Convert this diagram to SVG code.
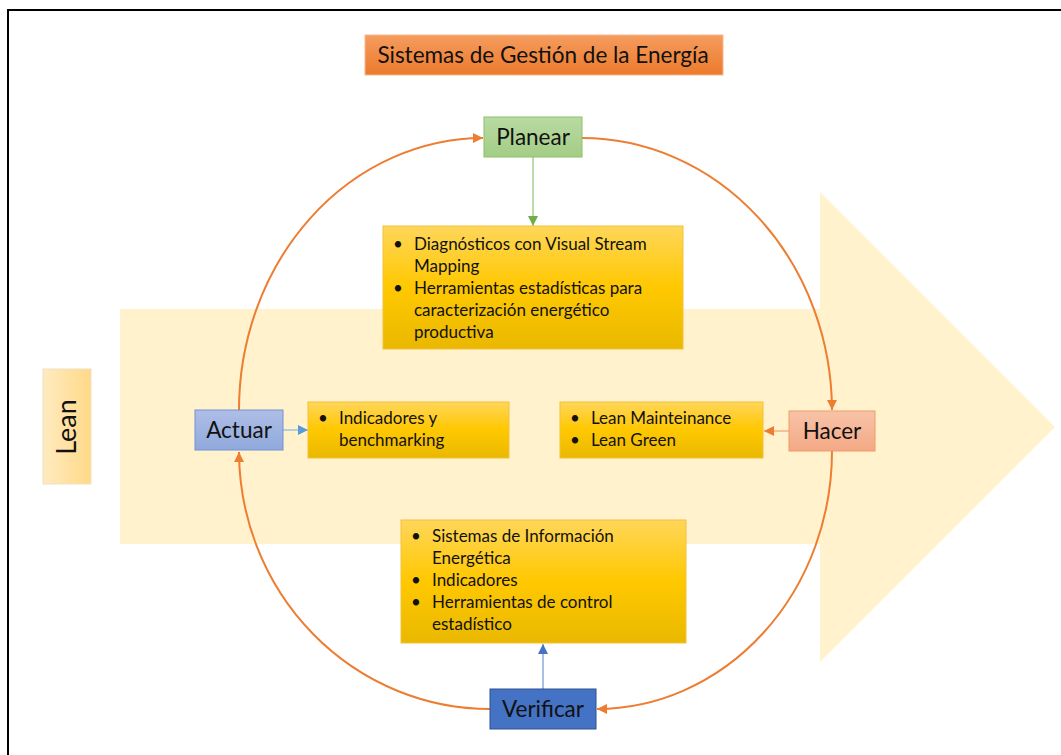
<svg xmlns="http://www.w3.org/2000/svg" width="1061" height="755" viewBox="0 0 1061 755">
  <style>
    text { font-family: Lato, "Open Sans", "Liberation Sans", sans-serif; fill: #111; }
    .lbl { font-size: 22.5px; text-anchor: middle; }
    .item { font-size: 17px; }
    .cycle { fill: none; stroke: #ED7D31; stroke-width: 2; marker-end: url(#arrOrange); }
    .box { stroke: #F3C13A; stroke-width: 1; fill: url(#gYellow); }
  </style>
  <defs>
    <linearGradient id="gYellow" x1="0" y1="0" x2="0" y2="1">
      <stop offset="0" stop-color="#FFD65A"/>
      <stop offset="0.5" stop-color="#FFC800"/>
      <stop offset="1" stop-color="#E9B800"/>
    </linearGradient>
    <linearGradient id="gTitle" x1="0" y1="0" x2="0" y2="1">
      <stop offset="0" stop-color="#F59C5E"/>
      <stop offset="1" stop-color="#EC7A2B"/>
    </linearGradient>
    <linearGradient id="gGreen" x1="0" y1="0" x2="0" y2="1">
      <stop offset="0" stop-color="#B9DAA2"/>
      <stop offset="1" stop-color="#A3CD86"/>
    </linearGradient>
    <linearGradient id="gLav" x1="0" y1="0" x2="0" y2="1">
      <stop offset="0" stop-color="#AEBEE6"/>
      <stop offset="1" stop-color="#90A9DC"/>
    </linearGradient>
    <linearGradient id="gSalmon" x1="0" y1="0" x2="0" y2="1">
      <stop offset="0" stop-color="#F8C3A8"/>
      <stop offset="1" stop-color="#F4A985"/>
    </linearGradient>
    <linearGradient id="gLean" x1="0" y1="0" x2="1" y2="0">
      <stop offset="0" stop-color="#FFEBC0"/>
      <stop offset="1" stop-color="#FFD987"/>
    </linearGradient>
    <marker id="arrOrange" viewBox="0 0 10 10" refX="10" refY="5" markerWidth="10" markerHeight="10" markerUnits="userSpaceOnUse" orient="auto">
      <path d="M0,0 L10,5 L0,10 z" fill="#ED7D31"/>
    </marker>
    <marker id="arrGreen" viewBox="0 0 10 10" refX="10" refY="5" markerWidth="10" markerHeight="10" markerUnits="userSpaceOnUse" orient="auto">
      <path d="M0,0 L10,5 L0,10 z" fill="#70AD47"/>
    </marker>
    <marker id="arrBlue" viewBox="0 0 10 10" refX="10" refY="5" markerWidth="10" markerHeight="10" markerUnits="userSpaceOnUse" orient="auto">
      <path d="M0,0 L10,5 L0,10 z" fill="#5B9BD5"/>
    </marker>
    <marker id="arrDkBlue" viewBox="0 0 10 10" refX="10" refY="5" markerWidth="10" markerHeight="10" markerUnits="userSpaceOnUse" orient="auto">
      <path d="M0,0 L10,5 L0,10 z" fill="#4472C4"/>
    </marker>
  </defs>

  <rect x="0" y="0" width="1061" height="755" fill="#FFFFFF"/>
  <!-- page frame -->
  <path d="M8,755 V10 H1061" fill="none" stroke="#000" stroke-width="2"/>

  <!-- large background arrow -->
  <path id="bigArrow" d="M120,309 H820 V192 L1055,427 L820,662 V544 H120 Z" fill="#FFF2CC"/>

  <g id="lean">
    <rect x="43" y="369" width="48" height="115" fill="url(#gLean)" stroke="#F0E0C0" stroke-width="1"/>
    <text transform="translate(76,427) rotate(-90)" font-size="27" text-anchor="middle">Lean</text>
  </g>

  <g id="title">
    <rect x="365" y="35" width="358" height="40" fill="url(#gTitle)" stroke="#F5B98E" stroke-width="1"/>
    <text x="543" y="63" class="lbl">Sistemas de Gestión de la Energía</text>
  </g>

  <!-- connectors -->
  <g id="connectors">
    <path class="cycle" d="M582,138 A250,273 0 0 1 832,410"/>
    <path class="cycle" d="M832,451 A236,258 0 0 1 597,709"/>
    <path class="cycle" d="M490,709 A251,258 0 0 1 239,452"/>
    <path class="cycle" d="M239,410 A245,272 0 0 1 483,138"/>
    <path d="M533,157 V226" stroke="#A9D18E" stroke-width="1.5" fill="none" marker-end="url(#arrGreen)"/>
    <path d="M283,430 H308" stroke="#9DC3E6" stroke-width="1.5" fill="none" marker-end="url(#arrBlue)"/>
    <path d="M789,431 H764" stroke="#F4B183" stroke-width="1.5" fill="none" marker-end="url(#arrOrange)"/>
    <path d="M543,689 V644" stroke="#8FAADC" stroke-width="1.5" fill="none" marker-end="url(#arrDkBlue)"/>
  </g>

  <g id="planear">
    <rect x="484" y="117" width="98" height="40" fill="url(#gGreen)" stroke="#8CC068" stroke-width="1"/>
    <text x="533" y="145" class="lbl">Planear</text>
  </g>

  <g id="hacer">
    <rect x="789" y="411" width="86" height="40" fill="url(#gSalmon)" stroke="#F19A6C" stroke-width="1"/>
    <text x="832" y="439" class="lbl">Hacer</text>
  </g>

  <g id="actuar">
    <rect x="195" y="410" width="88" height="40" fill="url(#gLav)" stroke="#7591D4" stroke-width="1"/>
    <text x="239" y="438" class="lbl">Actuar</text>
  </g>

  <g id="verificar">
    <rect x="490" y="689" width="106" height="40" fill="#4472C4" stroke="#2F528F" stroke-width="1"/>
    <text x="543" y="717" class="lbl">Verificar</text>
  </g>

  <g id="planTasks">
    <rect class="box" x="383" y="226" width="300" height="123"/>
    <text class="item" x="393" y="250">•</text>
    <text class="item" x="414" y="250">Diagnósticos con Visual Stream</text>
    <text class="item" x="414" y="272">Mapping</text>
    <text class="item" x="393" y="294">•</text>
    <text class="item" x="414" y="294">Herramientas estadísticas para</text>
    <text class="item" x="414" y="316">caracterización energético</text>
    <text class="item" x="414" y="338">productiva</text>
  </g>

  <g id="actTasks">
    <rect class="box" x="308" y="402" width="201" height="56"/>
    <text class="item" x="318" y="424">•</text>
    <text class="item" x="339" y="424">Indicadores y</text>
    <text class="item" x="339" y="446">benchmarking</text>
  </g>

  <g id="doTasks">
    <rect class="box" x="560" y="402" width="203" height="56"/>
    <text class="item" x="570" y="424">•</text>
    <text class="item" x="591" y="424">Lean Mainteinance</text>
    <text class="item" x="570" y="446">•</text>
    <text class="item" x="591" y="446">Lean Green</text>
  </g>

  <g id="checkTasks">
    <rect class="box" x="401" y="520" width="285" height="123"/>
    <text class="item" x="411" y="542">•</text>
    <text class="item" x="432" y="542">Sistemas de Información</text>
    <text class="item" x="432" y="564">Energética</text>
    <text class="item" x="411" y="586">•</text>
    <text class="item" x="432" y="586">Indicadores</text>
    <text class="item" x="411" y="608">•</text>
    <text class="item" x="432" y="608">Herramientas de control</text>
    <text class="item" x="432" y="630">estadístico</text>
  </g>
</svg>
